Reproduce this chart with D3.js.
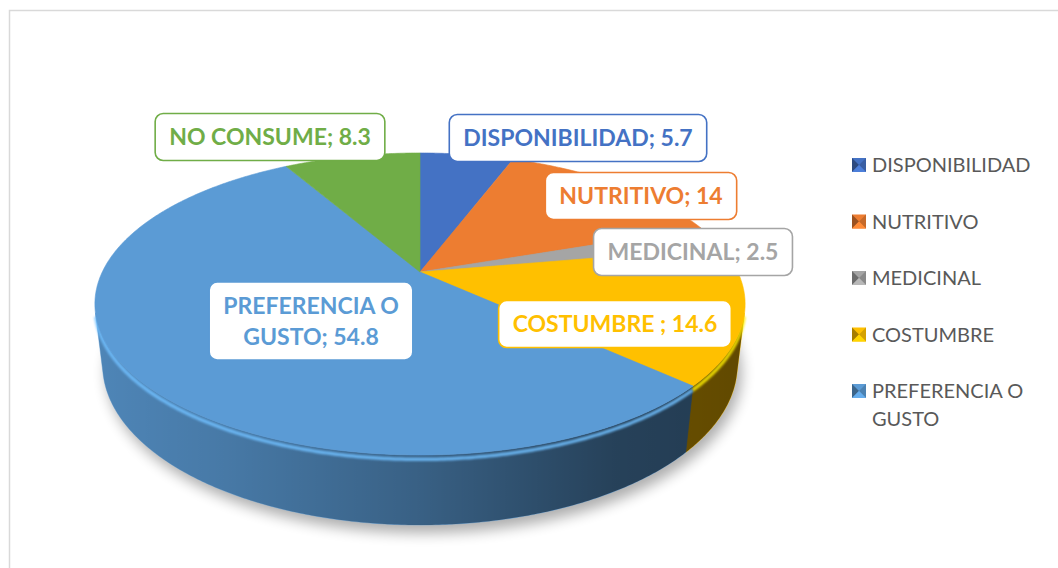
<!DOCTYPE html>
<html><head><meta charset="utf-8">
<script src="https://cdn.jsdelivr.net/npm/d3@7"></script>
<style>html,body{margin:0;padding:0;background:#fff;} svg{display:block;}</style>
</head><body>
<svg id="chart" width="1058" height="568"></svg>
<script>
// ---- data ----
const categories = ["DISPONIBILIDAD", "NUTRITIVO", "MEDICINAL", "COSTUMBRE ", "PREFERENCIA O GUSTO", "NO CONSUME"];
const values = [5.7, 14, 2.5, 14.6, 54.8, 8.3];
const colors = ["#4472c4", "#ed7d31", "#a5a5a5", "#ffc000", "#5b9bd5", "#70ad47"];
const legendCategories = categories.slice(0, 5);

// ---- layout ----
const labelCenters = [[578, 138], [641, 196], [693, 252], [615, 324], [311, 321], [270, 137]];
const labelWrap = [400, 400, 400, 400, 200, 400];
const view = {cx: 420, cy: 272, elev: 27 * Math.PI / 180, dist: 4.205, focal: 1336, height: 0.2156};

const svg = d3.select("#chart");
const defs = svg.append("defs");
const ce = Math.cos(view.elev), se = Math.sin(view.elev);
function proj(theta, Y, rho = 1) {
  const X = rho * Math.sin(theta), Z = -rho * Math.cos(theta);
  const yc = -Y * ce + Z * se, d = view.dist - Z * ce - Y * se;
  return [view.cx + view.focal * X / d, view.cy + view.focal * yc / d];
}
function arcPts(a0, a1, Y) {
  const n = Math.max(2, Math.ceil(Math.abs(a1 - a0) / (Math.PI / 360)));
  return d3.range(n + 1).map(i => proj(a0 + (a1 - a0) * i / n, Y));
}
const line = d3.line();
const data = categories.map((c, i) => ({cat: c, value: values[i], color: colors[i]}));
const arcs = d3.pie().sort(null).value(d => d.value).startAngle(0).endAngle(2 * Math.PI)(data);
const H = -view.height;
const tL = Math.acos(-1 / (view.dist * ce)), tR = 2 * Math.PI - tL;

// filters / gradients
const blur = defs.append("filter").attr("id", "shadowBlur").attr("x", "-20%").attr("y", "-20%").attr("width", "140%").attr("height", "140%");
blur.append("feGaussianBlur").attr("stdDeviation", 7);
const soft = defs.append("filter").attr("id", "soft");
soft.append("feGaussianBlur").attr("stdDeviation", 1.3);
const g = defs.append("linearGradient").attr("id", "wallShade").attr("gradientUnits", "userSpaceOnUse")
  .attr("x1", proj(tL, 0)[0]).attr("x2", proj(tR, 0)[0]).attr("y1", 0).attr("y2", 0);
[[0, 0.62], [0.2, 0.58], [0.5, 0.38], [0.8, 0.22], [1, 0.14]].forEach(([o, a]) =>
  g.append("stop").attr("offset", o).attr("stop-color", "#000").attr("stop-opacity", a));

// shadow
const bottomFull = arcPts(0, 2 * Math.PI, H);
svg.append("path").attr("d", line(bottomFull) + "Z").attr("transform", "translate(4,8)")
  .attr("fill", "#000").attr("opacity", 0.32).attr("filter", "url(#shadowBlur)");

// walls
const wallG = svg.append("g");
arcs.forEach(a => {
  const lo = Math.max(a.startAngle, tL), hi = Math.min(a.endAngle, tR);
  if (hi <= lo) return;
  const pts = arcPts(lo, hi, 0).concat(arcPts(hi, lo, H));
  wallG.append("path").attr("d", line(pts) + "Z").attr("fill", a.data.color).attr("stroke", a.data.color).attr("stroke-width", 0.5);
});
wallG.append("path").attr("d", line(arcPts(tL, tR, 0).concat(arcPts(tR, tL, H))) + "Z").attr("fill", "url(#wallShade)");
arcs.forEach(a => {
  const lo = Math.max(a.startAngle, tL), hi = Math.min(a.endAngle, tR);
  if (hi <= lo) return;
  wallG.append("path").attr("d", line(arcPts(lo, hi, H * 0.06))).attr("fill", "none")
    .attr("stroke", d3.color(a.data.color).brighter(0.6)).attr("stroke-width", 3.5).attr("opacity", 0.85).attr("filter", "url(#soft)");
});

// top faces
const apex = proj(0, 0, 0);
svg.append("g").selectAll("path").data(arcs).join("path")
  .attr("d", a => line([apex].concat(arcPts(a.startAngle, a.endAngle, 0))) + "Z")
  .attr("fill", a => a.data.color).attr("stroke", a => a.data.color).attr("stroke-width", 0.6);

// labels
const lab = svg.append("g").attr("font-family", "Lato, 'Open Sans', sans-serif").attr("font-weight", "bold").attr("font-size", 23);
function wrap(text, maxW, measure) {
  const words = text.split(" ");
  const lines = []; let cur = "";
  words.forEach(w => {
    const t = cur ? cur + " " + w : w;
    if (cur && measure(t) > maxW) { lines.push(cur); cur = w; } else cur = t;
  });
  lines.push(cur);
  return lines;
}
const meas = lab.append("text").attr("visibility", "hidden");
const measure = t => { meas.text(t); return meas.node().getComputedTextLength(); };
arcs.forEach((a, i) => {
  const txt = `${a.data.cat}; ${a.data.value}`;
  const lines = wrap(txt, labelWrap[i], measure);
  const [x, y] = labelCenters[i];
  const gg = lab.append("g").attr("transform", `translate(${x},${y})`);
  const rect = gg.append("rect");
  const lh = 31;
  const t = gg.append("text").attr("text-anchor", "middle").attr("fill", a.data.color);
  lines.forEach((l, k) => t.append("tspan").attr("x", 0).attr("y", (k - (lines.length - 1) / 2) * lh).attr("dy", "0.36em").text(l));
  const w = d3.max(lines, measure);
  const bw = w + 28, bh = (lines.length - 1) * lh + 47;
  rect.attr("x", -bw / 2).attr("y", -bh / 2).attr("width", bw).attr("height", bh).attr("rx", 8)
    .attr("fill", "#fff").attr("stroke", a.data.color).attr("stroke-width", 1.6);
});
meas.remove();

// legend
const leg = svg.append("g").attr("font-family", "Lato, 'Open Sans', sans-serif").attr("font-size", 20).attr("fill", "#595959");
const legMeas = leg.append("text").attr("visibility", "hidden");
const lmeasure = t => { legMeas.text(t); return legMeas.node().getComputedTextLength(); };
legendCategories.forEach((c, i) => {
  const cy = 165 + i * 56.5;
  const x0 = 852, s = 14, col = d3.color(colors[i]);
  const mk = leg.append("g").attr("transform", `translate(${x0},${cy - s / 2})`);
  mk.append("rect").attr("width", s).attr("height", s).attr("fill", col);
  mk.append("path").attr("d", `M0,0L${s / 2},${s / 2}L0,${s}Z`).attr("fill", col.darker(1.2));
  mk.append("path").attr("d", `M${s},0L${s / 2},${s / 2}L${s},${s}Z`).attr("fill", col.darker(0.5));
  mk.append("path").attr("d", `M0,${s}L${s / 2},${s / 2}L${s},${s}Z`).attr("fill", col.brighter(0.3));
  const lines = wrap(c.trim(), 180, lmeasure);
  const t = leg.append("text");
  lines.forEach((l, k) => t.append("tspan").attr("x", 872).attr("y", cy + k * 28).attr("dy", "0.35em").text(l));
});
legMeas.remove();

// frame
svg.append("rect").attr("x", 9.5).attr("y", 10.5).attr("width", 1100).attr("height", 600)
  .attr("fill", "none").attr("stroke", "#d9d9d9").attr("stroke-width", 1.5);
</script>
</body></html>
